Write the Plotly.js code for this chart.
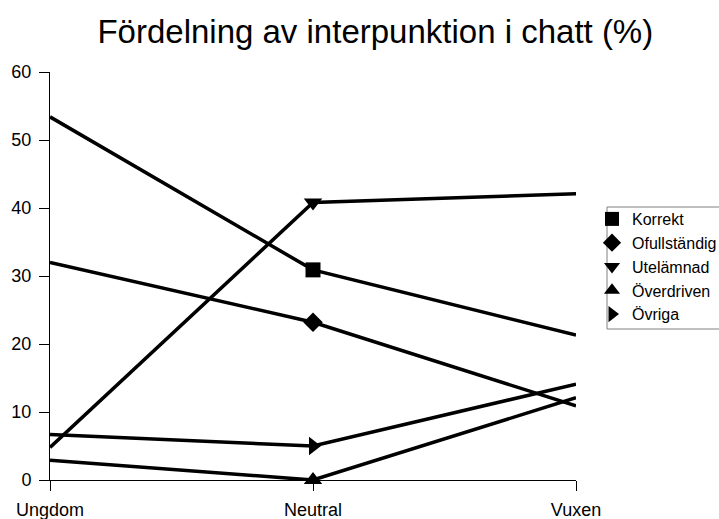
<!DOCTYPE html>
<html>
<head>
<meta charset="utf-8">
<script src="https://cdn.plot.ly/plotly-3.0.1.min.js"></script>
<style>html,body{margin:0;padding:0;background:#fff;}#chart{width:719px;height:519px;}</style>
</head>
<body>
<div id="chart"></div>
<script>
var categories = ["Ungdom", "Neutral", "Vuxen"];
var seriesNames = ["Korrekt", "Ofullständig", "Utelämnad", "Överdriven", "Övriga"];
var korrekt = [53.4, 30.9, 21.3];
var ofullstandig = [32.0, 23.2, 10.9];
var utelamnad = [4.8, 40.8, 42.1];
var overdriven = [2.9, 0.0, 12.1];
var ovriga = [6.7, 5.0, 14.1];
var yTicks = [0, 10, 20, 30, 40, 50, 60];

var seriesValues = [korrekt, ofullstandig, utelamnad, overdriven, ovriga];
var symbols = ["square", "diamond", "triangle-down", "triangle-up", "triangle-right"];
var sizes = [15, 15, 16, 16, 16];

var font = "Arial, 'Liberation Sans', sans-serif";
var traces = [];
seriesValues.forEach(function (vals, i) {
  traces.push({
    x: categories, y: vals, type: "scatter", mode: "lines+markers",
    name: seriesNames[i], showlegend: false,
    line: {color: "#000", width: 3.5},
    marker: {symbol: symbols[i], color: "#000", size: [0, sizes[i], 0],
             opacity: 1, line: {color: "#000", width: 0}},
    cliponaxis: false, hoverinfo: "skip"
  });
});
seriesValues.forEach(function (vals, i) {
  traces.push({
    x: [null], y: [null], type: "scatter", mode: "markers",
    name: seriesNames[i], showlegend: true,
    marker: {symbol: symbols[i], color: "#000", size: 14, line: {color: "#000", width: 0}}
  });
});

// plot area in pixels: x 50..576, y 72..480
function px2x(p) { return (p - 50) / 526; }
function px2y(p) { return (480 - p) / 408; }

var layout = {
  width: 719, height: 519,
  margin: {l: 50, r: 143, t: 72, b: 39},
  paper_bgcolor: "#fff", plot_bgcolor: "#fff",
  font: {family: font, color: "#000", size: 18},
  title: {text: "Fördelning av interpunktion i chatt (%)", font: {family: font, size: 33, color: "#000"},
          x: 0.522, xanchor: "center", y: 0.94, yanchor: "middle"},
  xaxis: {type: "category", range: [0, 2], showline: true, linecolor: "#000", linewidth: 1,
          ticks: "outside", ticklen: 10, tickcolor: "#000", tickwidth: 1,
          showgrid: false, zeroline: false, tickfont: {size: 18}, ticklabelstandoff: 3},
  yaxis: {range: [0, 60], tickvals: yTicks, showline: true, linecolor: "#000", linewidth: 1,
          ticks: "outside", ticklen: 10, tickcolor: "#000", tickwidth: 1,
          showgrid: false, zeroline: false, tickfont: {size: 18}, ticklabelstandoff: 4},
  legend: {x: 592/719, xref: "container", y: 1 - 202/519, yref: "container", xanchor: "left", yanchor: "top",
           borderwidth: 0, bgcolor: "rgba(0,0,0,0)",
           font: {size: 16, family: font}, itemwidth: 30, tracegroupgap: 0},
  shapes: [{type: "rect", xref: "paper", yref: "paper",
            x0: px2x(607), x1: px2x(719.5), y0: px2y(329), y1: px2y(207),
            line: {color: "#808080", width: 1}, fillcolor: "rgba(0,0,0,0)", layer: "below"}],
  showlegend: true
};

Plotly.newPlot("chart", traces, layout, {displayModeBar: false, staticPlot: true});
</script>
</body>
</html>
